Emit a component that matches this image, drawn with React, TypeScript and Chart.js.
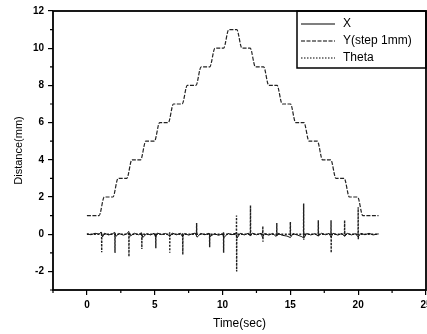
import { useEffect, useRef } from 'react';
import { Chart, registerables } from 'chart.js';

Chart.register(...registerables);

// ---- data ----
const SERIES_LABELS = ['X', 'Y(step 1mm)', 'Theta'];
const X_TICKS = [0, 5, 10, 15, 20, 25];
const X_MINOR = [-2.5, 2.5, 7.5, 12.5, 17.5, 22.5];
const Y_TICKS = [-2, 0, 2, 4, 6, 8, 10, 12];
const Y_MINOR = [-3, -1, 1, 3, 5, 7, 9, 11];

// X: noisy trace around zero [time, value]
const X_SERIES: [number, number][] = [
  [0, 0.02], [0.3, -0.03], [0.6, 0.05], [0.9, 0], [1.05, 0.12], [1.15, -0.15], [1.3, 0.05], [1.6, -0.04],
  [1.9, 0.03], [2.05, 0.1], [2.15, -0.12], [2.35, 0.04], [2.7, -0.05], [2.95, 0.02], [3.08, 0.15], [3.2, -0.1],
  [3.5, 0.05], [3.8, -0.03], [4.02, 0.08], [4.12, -0.18], [4.4, 0.03], [4.7, -0.04], [4.95, 0.05], [5.06, -0.15],
  [5.2, 0.06], [5.5, -0.02], [5.8, 0.04], [6.0, -0.05], [6.12, -0.12], [6.3, 0.06], [6.6, -0.03], [6.9, 0.05],
  [7.05, -0.14], [7.2, 0.04], [7.5, -0.05], [7.8, 0.03], [8.0, 0.06], [8.12, -0.16], [8.4, 0.04], [8.7, -0.03],
  [9.0, 0.05], [9.1, -0.12], [9.4, 0.03], [9.7, -0.06], [10.0, 0.02], [10.1, -0.18], [10.4, 0.04], [10.7, -0.03],
  [10.95, 0.06], [11.08, -0.2], [11.3, 0.05], [11.6, -0.04], [11.9, 0.05], [12.05, -0.1], [12.2, 0.06], [12.5, -0.03],
  [12.85, 0.05], [12.95, -0.18], [13.1, 0.04], [13.4, -0.05], [13.7, 0.04], [13.95, -0.12], [14.1, 0.05], [14.4, -0.06],
  [14.75, -0.1], [15.0, -0.18], [15.2, 0.03], [15.5, -0.04], [15.8, -0.12], [16.0, -0.2], [16.2, 0.04], [16.5, -0.04],
  [16.8, 0.03], [17.05, -0.1], [17.3, 0.05], [17.6, -0.03], [17.85, 0.04], [18.0, -0.15], [18.15, 0.05], [18.5, -0.05],
  [18.8, 0.04], [19.0, -0.12], [19.2, 0.05], [19.5, -0.04], [19.8, 0.03], [20.0, -0.15], [20.2, 0.05], [20.5, -0.03],
  [20.8, 0.05], [21.1, -0.04], [21.5, 0.02],
];

// Y (step 1mm): staircase [time, value]
const Y_SERIES: [number, number][] = [
  [0, 1], [0.9, 1], [1.28, 2], [1.92, 2], [2.3, 3], [2.94, 3], [3.32, 4], [3.96, 4],
  [4.34, 5], [4.98, 5], [5.36, 6], [6.0, 6], [6.38, 7], [7.02, 7], [7.4, 8], [8.04, 8],
  [8.42, 9], [9.06, 9], [9.44, 10], [10.08, 10], [10.46, 11], [11.05, 11], [11.43, 10], [12.04, 10],
  [12.42, 9], [13.03, 9], [13.41, 8], [14.02, 8], [14.4, 7], [15.01, 7], [15.39, 6], [16.0, 6],
  [16.38, 5], [16.99, 5], [17.37, 4], [17.98, 4], [18.36, 3], [18.97, 3], [19.35, 2], [19.96, 2],
  [20.34, 1], [21.5, 1],
];

// Theta: spikes at each step
const THETA_T = [1.08, 2.06, 3.09, 4.04, 5.07, 6.1, 7.06, 8.09, 9.04, 10.07, 11.03, 12.06, 12.97, 14.0, 15.0, 15.98, 17.06, 18.0, 19.0, 20.0];
const THETA_UP = [0.1, 0.05, 0.1, 0.05, 0.05, 0.1, 0.05, 0.6, 0.05, 0.1, 1.0, 1.55, 0.43, 0.6, 0.65, 1.65, 0.75, 0.75, 0.75, 1.45];
const THETA_DOWN = [-0.97, -1.0, -1.2, -0.8, -0.75, -1.0, -1.1, -0.05, -0.7, -1.0, -2.0, -0.1, -0.4, -0.1, -0.1, -0.3, -0.1, -1.0, -0.1, -0.3];
const THETA_START = 0;
const THETA_END = 21.5;

const FONT = '"Liberation Sans", Arial, Helvetica, sans-serif';
const CANVAS_W = 445;
const CANVAS_H = 334;

function buildTheta() {
  const pts: { x: number; y: number }[] = [{ x: THETA_START, y: 0 }];
  THETA_T.forEach((t, i) => {
    pts.push({ x: t - 0.01, y: 0 });
    pts.push({ x: t, y: THETA_UP[i] });
    pts.push({ x: t + 0.01, y: THETA_DOWN[i] });
    pts.push({ x: t + 0.02, y: 0 });
  });
  pts.push({ x: THETA_END, y: 0 });
  return pts;
}

const framePlugin = {
  id: 'frameAndLegend',
  afterDraw(chart: any) {
    const { ctx, chartArea } = chart;
    const { left, right, top, bottom } = chartArea;
    const xs = chart.scales.x;
    const ys = chart.scales.y;
    ctx.save();
    // minor ticks
    ctx.strokeStyle = '#000';
    ctx.lineWidth = 1.2;
    ctx.beginPath();
    X_MINOR.forEach((v) => {
      const px = xs.getPixelForValue(v);
      ctx.moveTo(px, bottom);
      ctx.lineTo(px, bottom + 3);
    });
    Y_MINOR.forEach((v) => {
      const py = ys.getPixelForValue(v);
      ctx.moveTo(left, py);
      ctx.lineTo(left - 3, py);
    });
    ctx.stroke();
    // frame
    ctx.lineWidth = 1.8;
    ctx.strokeRect(left, top, right - left, bottom - top);
    // legend box
    const lw = 129;
    const lh = 57;
    const lx = right - lw;
    const ly = top;
    ctx.lineWidth = 1.5;
    ctx.strokeRect(lx, ly, lw, lh);
    const styles = [
      { dash: [], width: 1.1 },
      { dash: [4, 1.5], width: 1.1 },
      { dash: [1.5, 1.5], width: 1.2 },
    ];
    ctx.font = `12px ${FONT}`;
    ctx.fillStyle = '#000';
    ctx.textBaseline = 'middle';
    SERIES_LABELS.forEach((lab, i) => {
      const yy = ly + 13 + i * 17;
      ctx.setLineDash(styles[i].dash);
      ctx.lineWidth = styles[i].width;
      ctx.beginPath();
      ctx.moveTo(lx + 4, yy);
      ctx.lineTo(lx + 38, yy);
      ctx.stroke();
      ctx.setLineDash([]);
      ctx.fillText(lab, lx + 46, yy);
    });
    ctx.restore();
  },
};

export default function App() {
  const ref = useRef<HTMLCanvasElement>(null);
  useEffect(() => {
    if (!ref.current) return;
    const chart = new Chart(ref.current, {
      type: 'line',
      data: {
        datasets: [
          {
            label: SERIES_LABELS[0],
            data: X_SERIES.map(([x, y]) => ({ x, y })),
            borderColor: '#111',
            borderWidth: 1,
            pointRadius: 0,
            tension: 0,
          },
          {
            label: SERIES_LABELS[1],
            data: Y_SERIES.map(([x, y]) => ({ x, y })),
            borderColor: '#222',
            borderWidth: 1.2,
            borderDash: [4, 1.5],
            pointRadius: 0,
            cubicInterpolationMode: 'monotone',
          },
          {
            label: SERIES_LABELS[2],
            data: buildTheta(),
            borderColor: '#222',
            borderWidth: 1.4,
            borderDash: [2, 1.5],
            pointRadius: 0,
            tension: 0,
          },
        ],
      },
      options: {
        animation: false,
        responsive: false,
        devicePixelRatio: 1,
        layout: { padding: { left: 0, right: CANVAS_W - 426, top: 11, bottom: 0 } },
        plugins: { legend: { display: false }, tooltip: { enabled: false } },
        scales: {
          x: {
            type: 'linear',
            min: -2.5,
            max: 25,
            afterBuildTicks: (s: any) => { s.ticks = X_TICKS.map((v) => ({ value: v })); },
            afterFit: (s: any) => { s.height = 44; s.paddingLeft = 0; s.paddingRight = 0; },
            border: { display: false },
            grid: { drawOnChartArea: false, drawTicks: true, tickLength: 5, color: '#000', lineWidth: 1.2 },
            ticks: {
              color: '#000',
              padding: 4,
              maxRotation: 0,
              autoSkip: false,
              font: { family: FONT, size: 10, weight: 'bold' },
              callback: (v: any) => String(v),
            },
            title: {
              display: true,
              text: 'Time(sec)',
              color: '#000',
              font: { family: FONT, size: 12 },
              padding: { top: 0, bottom: 3 },
            },
          },
          y: {
            type: 'linear',
            min: -3,
            max: 12,
            afterBuildTicks: (s: any) => { s.ticks = Y_TICKS.map((v) => ({ value: v })); },
            afterFit: (s: any) => { s.width = 53; s.paddingTop = 0; s.paddingBottom = 0; },
            border: { display: false },
            grid: { drawOnChartArea: false, drawTicks: true, tickLength: 5, color: '#000', lineWidth: 1.2 },
            ticks: {
              color: '#000',
              padding: 4,
              autoSkip: false,
              font: { family: FONT, size: 10, weight: 'bold' },
              callback: (v: any) => String(v),
            },
            title: {
              display: true,
              text: 'Distance(mm)',
              color: '#000',
              font: { family: FONT, size: 11 },
              padding: { top: 12, bottom: 0 },
            },
          },
        },
      },
      plugins: [framePlugin],
    } as any);
    return () => chart.destroy();
  }, []);

  return (
    <div style={{ position: 'fixed', left: 0, top: 0, width: 427, height: 334, overflow: 'hidden', background: '#fff' }}>
      <canvas ref={ref} width={CANVAS_W} height={CANVAS_H} style={{ display: 'block', width: CANVAS_W, height: CANVAS_H }} />
    </div>
  );
}
